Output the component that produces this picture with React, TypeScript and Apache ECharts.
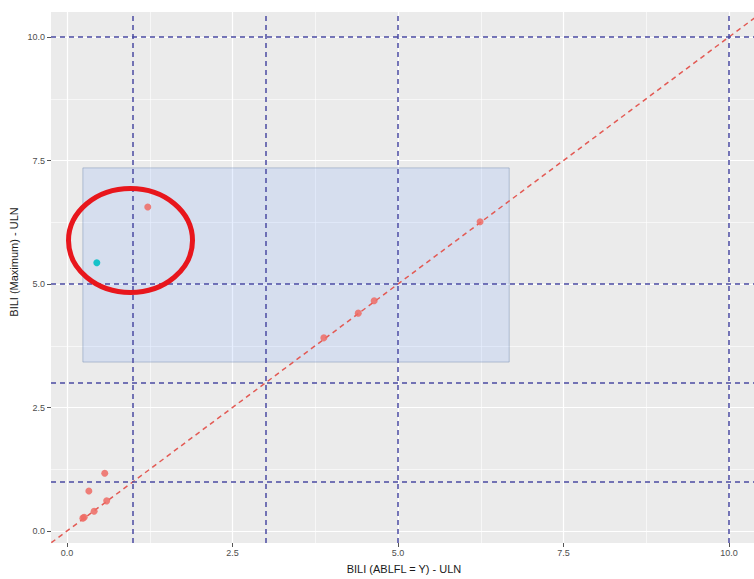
import React, { useEffect, useRef } from "react";
import * as echarts from "echarts";

// ---- data ----
const xAxisTitle = "BILI (ABLFL = Y) - ULN";
const yAxisTitle = "BILI (Maximum) - ULN";
const tickStep = 2.5;
const axisMin = 0;
const axisMax = 10;
const redPoints: number[][] = [
  [1.22, 6.56],
  [6.24, 6.26],
  [4.64, 4.66],
  [4.4, 4.41],
  [3.88, 3.91],
  [0.57, 1.17],
  [0.33, 0.81],
  [0.6, 0.61],
  [0.41, 0.4],
  [0.26, 0.28],
  [0.24, 0.26],
];
const cyanPoints: number[][] = [[0.45, 5.43]];
const refLinesX = [1, 3, 5, 10];
const refLinesY = [1, 3, 5, 10];
const diagonal: number[][] = [
  [-1, -1],
  [12, 12],
];
const boxX = [0.24, 6.68];
const boxY = [3.42, 7.35];
// visible panel data extents (with ggplot expansion, cropped at the right)
const panelX = [-0.2417, 10.378];
const panelY = [-0.243, 10.506];

export default function App() {
  const ref = useRef<HTMLDivElement>(null);
  useEffect(() => {
    if (!ref.current) return;
    const chart = echarts.init(ref.current, undefined, { renderer: "svg" });
    const labelStyle = {
      color: "#4D4D4D",
      fontSize: 9,
      fontFamily: "Liberation Sans, Arial, sans-serif",
      formatter: (v: number) => v.toFixed(1),
    };
    const hidden = {
      axisLine: { show: false },
      axisTick: { show: false },
      axisLabel: { show: false },
      splitLine: { show: false },
    };
    const option: any = {
      animation: false,
      backgroundColor: "#ffffff",
      grid: [
        {
          left: 51,
          top: 12,
          width: 703,
          height: 531,
          show: true,
          backgroundColor: "#EBEBEB",
          borderWidth: 0,
        },
        { left: 67, top: 12, width: 662, height: 531, show: false },
        { left: 51, top: 37, width: 703, height: 494, show: false },
      ],
      xAxis: [
        { type: "value", gridIndex: 0, min: panelX[0], max: panelX[1], ...hidden },
        {
          type: "value",
          gridIndex: 1,
          min: axisMin,
          max: axisMax,
          interval: tickStep,
          axisLine: { show: false },
          axisTick: { show: true, length: 4, lineStyle: { color: "#555" } },
          axisLabel: { ...labelStyle, margin: 5 },
          splitLine: { show: true, lineStyle: { color: "#FFFFFF", width: 1.2 } },
          minorTick: { show: false, splitNumber: 2 },
          minorSplitLine: { show: true, lineStyle: { color: "#FFFFFF", width: 0.6 } },
        },
        { type: "value", gridIndex: 2, min: 0, max: 1, ...hidden },
      ],
      yAxis: [
        { type: "value", gridIndex: 0, min: panelY[0], max: panelY[1], ...hidden },
        { type: "value", gridIndex: 1, min: 0, max: 1, ...hidden },
        {
          type: "value",
          gridIndex: 2,
          min: axisMin,
          max: axisMax,
          interval: tickStep,
          axisLine: { show: false },
          axisTick: { show: true, length: 4, lineStyle: { color: "#555" } },
          axisLabel: { ...labelStyle, margin: 6 },
          splitLine: { show: true, lineStyle: { color: "#FFFFFF", width: 1.2 } },
          minorTick: { show: false, splitNumber: 2 },
          minorSplitLine: { show: true, lineStyle: { color: "#FFFFFF", width: 0.6 } },
        },
      ],
      series: [
        {
          type: "line",
          xAxisIndex: 0,
          yAxisIndex: 0,
          data: [],
          z: 1,
          markArea: {
            silent: true,
            itemStyle: {
              color: "rgba(110,160,255,0.17)",
              borderColor: "rgba(110,135,175,0.45)",
              borderWidth: 1,
            },
            data: [[{ coord: [boxX[0], boxY[1]] }, { coord: [boxX[1], boxY[0]] }]],
          },
        },
        {
          type: "line",
          xAxisIndex: 0,
          yAxisIndex: 0,
          data: [],
          z: 2,
          markLine: {
            silent: true,
            symbol: ["none", "none"],
            label: { show: false },
            lineStyle: { color: "#4B4BA3", width: 1.5, type: [5, 4] },
            data: [
              ...refLinesX.map((v) => ({ xAxis: v })),
              ...refLinesY.map((v) => ({ yAxis: v })),
            ],
          },
        },
        {
          type: "line",
          xAxisIndex: 0,
          yAxisIndex: 0,
          data: diagonal,
          clip: true,
          showSymbol: false,
          symbol: "none",
          z: 3,
          lineStyle: { color: "#E35A54", width: 1.5, type: [5, 4] },
        },
        {
          type: "scatter",
          xAxisIndex: 0,
          yAxisIndex: 0,
          data: redPoints,
          symbolSize: 7,
          z: 4,
          itemStyle: { color: "#EF6B64", opacity: 0.85 },
        },
        {
          type: "scatter",
          xAxisIndex: 0,
          yAxisIndex: 0,
          data: cyanPoints,
          symbolSize: 7,
          z: 4,
          itemStyle: { color: "#00BFC4", opacity: 0.9 },
        },
      ],
      graphic: [
        {
          type: "text",
          x: 404,
          y: 569,
          style: {
            text: xAxisTitle,
            fill: "#1A1A1A",
            fontSize: 11,
            fontFamily: "Liberation Sans, Arial, sans-serif",
            textAlign: "center",
            textVerticalAlign: "middle",
          },
        },
        {
          type: "text",
          x: 14,
          y: 262,
          rotation: Math.PI / 2,
          style: {
            text: yAxisTitle,
            fill: "#1A1A1A",
            fontSize: 11,
            fontFamily: "Liberation Sans, Arial, sans-serif",
            textAlign: "center",
            textVerticalAlign: "middle",
          },
        },
        {
          type: "ellipse",
          z: 100,
          shape: { cx: 130.5, cy: 240.5, rx: 62, ry: 52 },
          style: { fill: "none", stroke: "#E8161C", lineWidth: 5 },
        },
      ],
    };
    chart.setOption(option);
    return () => chart.dispose();
  }, []);
  return (
    <div
      ref={ref}
      style={{ position: "absolute", left: 0, top: 0, width: 754, height: 579 }}
    />
  );
}
